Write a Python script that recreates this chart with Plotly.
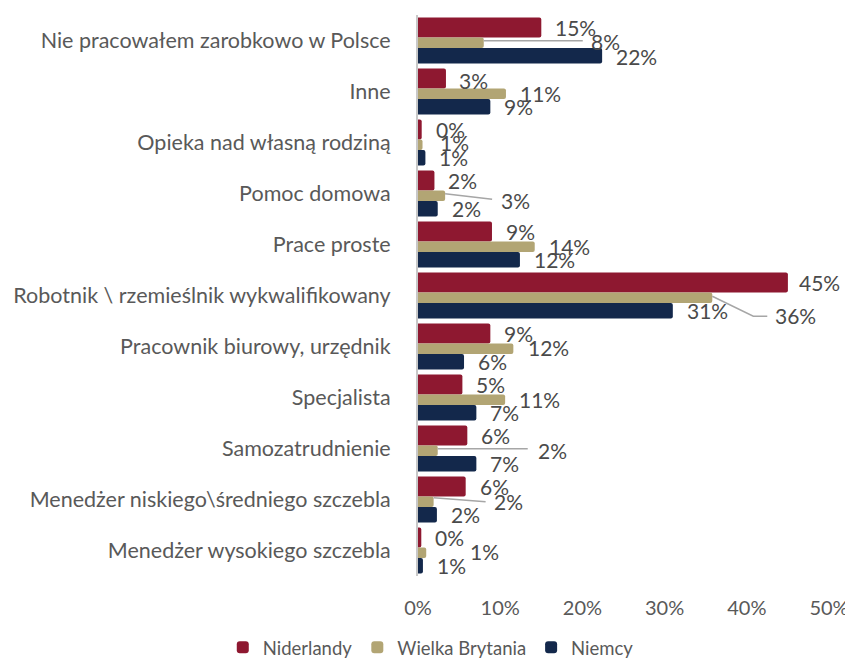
import plotly.graph_objects as go

categories = [
    "Nie pracowałem zarobkowo w Polsce",
    "Inne",
    "Opieka nad własną rodziną",
    "Pomoc domowa",
    "Prace proste",
    "Robotnik \\ rzemieślnik wykwalifikowany",
    "Pracownik biurowy, urzędnik",
    "Specjalista",
    "Samozatrudnienie",
    "Menedżer niskiego\\średniego szczebla",
    "Menedżer wysokiego szczebla",
]
series_names = ["Niderlandy", "Wielka Brytania", "Niemcy"]
niderlandy = [15.0, 3.4, 0.45, 2.0, 9.0, 45.0, 8.8, 5.4, 6.0, 5.8, 0.4]
wielka_brytania = [8.0, 10.7, 0.55, 3.3, 14.2, 35.8, 11.6, 10.6, 2.4, 1.9, 1.0]
niemcy = [22.4, 8.8, 0.9, 2.4, 12.4, 31.0, 5.6, 7.1, 7.1, 2.3, 0.6]
x_ticks = [0, 10, 20, 30, 40, 50]
x_tick_labels = ["0%", "10%", "20%", "30%", "40%", "50%"]

# ---- styling ----
colors = ["#8E1830", "#B2A574", "#13284B"]
BAND = 51.0  # px per category
# bar slots within a band (px from band top)
slots = [(2.5, 22.5), (22.5, 33.0), (33.0, 48.5)]
offsets = [a / BAND - 0.5 for a, b in slots]
widths = [(b - a) / BAND for a, b in slots]
centers = [o + w / 2 for o, w in zip(offsets, widths)]

# label placement tweaks: (series, row) -> (dx px from bar end to label left, dy px down)
label_pos = {
    (1, 0): (107, -1.5),
    (2, 0): (14, 0.5),
    (0, 1): (13, 2),
    (1, 2): (17, -2),
    (1, 3): (56, 5),
    (0, 5): (11, 0),
    (1, 5): (63, 18),
    (1, 6): (15, -1.5),
    (1, 8): (100, 0),
    (1, 9): (60, 0),
    (1, 10): (44, -1.5),
}
# leader lines: (series, row) -> list of pixel points relative to bar end / bar centre (dy down)
leaders = {
    (1, 0): [(0, -2), (99, -2)],
    (1, 3): [(0, -2), (47, 3.5)],
    (1, 5): [(0, -1.5), (41, 18.5), (55, 18.5)],
    (1, 8): [(0, -2), (90, -2)],
    (1, 9): [(0, -4), (52, 0)],
}

data = [niderlandy, wielka_brytania, niemcy]
rows = list(range(len(categories)))

fig = go.Figure()
for s, (name, vals) in enumerate(zip(series_names, data)):
    fig.add_trace(go.Bar(
        x=vals, y=rows, orientation="h", name=name,
        marker=dict(color=colors[s], cornerradius=2, line=dict(width=0)),
        offset=offsets[s], width=widths[s],
        hoverinfo="skip",
    ))

annotations = []
shapes = []
for s, vals in enumerate(data):
    for r, v in enumerate(vals):
        dx, dy = label_pos.get((s, r), (14, 0))
        annotations.append(dict(
            x=v, y=r + centers[s], xref="x", yref="y",
            text=f"{round(v)}%", showarrow=False,
            xanchor="left", yanchor="middle",
            xshift=dx - 2, yshift=-dy,
            font=dict(family="Lato", size=21, color="#4a4a4a"),
        ))
        if (s, r) in leaders:
            pts = leaders[(s, r)]
            path = "M " + " L ".join(f"{px},{-py}" for px, py in pts)
            shapes.append(dict(
                type="path", xref="x", yref="y",
                xsizemode="pixel", ysizemode="pixel",
                xanchor=v, yanchor=r + centers[s],
                path=path, line=dict(color="#A6A6A6", width=1.5),
            ))

fig.update_layout(
    width=845, height=659,
    margin=dict(l=418, r=16, t=15, b=83, autoexpand=False),
    paper_bgcolor="white", plot_bgcolor="white",
    barmode="overlay",
    showlegend=True,
    legend=dict(
        orientation="h", x=-0.475, xanchor="left", y=-0.128, yanchor="middle",
        font=dict(family="Lato", size=18.5, color="#595959"),
        itemwidth=30, traceorder="normal",
    ),
    annotations=annotations,
    shapes=shapes,
)
fig.update_xaxes(
    range=[0, 50], tickvals=x_ticks, ticktext=x_tick_labels,
    showgrid=False, zeroline=False, showline=False, automargin=False,
    ticks="outside", ticklen=14, tickcolor="rgba(0,0,0,0)",
    ticklabeloverflow="allow",
    tickfont=dict(family="Lato", size=20, color="#595959"),
)
fig.update_yaxes(
    range=[len(categories) - 0.5, -0.5],
    tickvals=rows, ticktext=categories,
    showgrid=False, zeroline=False, automargin=False,
    showline=True, linecolor="#C8C8C8", linewidth=2,
    ticks="outside", ticklen=21, tickcolor="rgba(0,0,0,0)",
    tickfont=dict(family="Lato", size=21.5, color="#595959"),
)

fig.write_html(
    "out.html",
    config={"displayModeBar": False},
    post_script="document.body.style.margin='0';document.body.style.overflow='hidden';",
)
